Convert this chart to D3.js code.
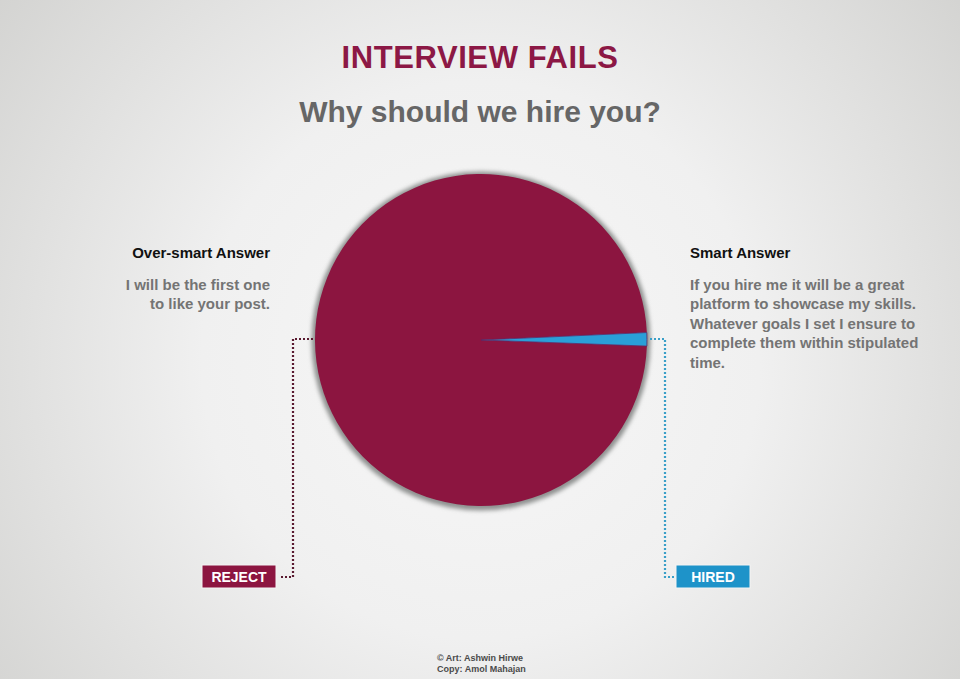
<!DOCTYPE html>
<html>
<head>
<meta charset="utf-8">
<script src="https://cdn.jsdelivr.net/npm/d3@7"></script>
<style>
  html, body { margin: 0; padding: 0; background: #e6e6e6; }
  svg { display: block; }
</style>
</head>
<body>
<svg id="chart" width="960" height="679"></svg>
<script>
// ---- data ----
const categories = ["Over-smart Answer", "Smart Answer"];
const values = [98.7, 1.3];
const outcomes = ["REJECT", "HIRED"];
const titleText = "INTERVIEW FAILS";
const subtitleText = "Why should we hire you?";
const leftBody = ["I will be the first one", "to like your post."];
const rightBody = ["If you hire me it will be a great", "platform to showcase my skills.", "Whatever goals I set I ensure to", "complete them within stipulated", "time."];
const credits = ["\u00A9 Art: Ashwin Hirwe", "Copy: Amol Mahajan"];

// ---- styles ----
const colors = ["#8c1540", "#2a9fd8"];
const boxColors = ["#8c1540", "#1e93c9"];
const dotColors = ["#5a1a30", "#3a9fc8"];
const font = "'Liberation Sans', Arial, sans-serif";

const W = 960, H = 679;
const cx = 481, cy = 340, R = 166;

const svg = d3.select("#chart");
const defs = svg.append("defs");

const bg = defs.append("radialGradient").attr("id", "bg")
  .attr("gradientUnits", "userSpaceOnUse")
  .attr("cx", cx).attr("cy", cy + 20).attr("r", 620);
bg.append("stop").attr("offset", "0%").attr("stop-color", "#f7f7f7");
bg.append("stop").attr("offset", "45%").attr("stop-color", "#f0f0f0");
bg.append("stop").attr("offset", "100%").attr("stop-color", "#d2d2d0");

const blur = defs.append("filter").attr("id", "blur")
  .attr("x", "-20%").attr("y", "-20%").attr("width", "140%").attr("height", "140%");
blur.append("feGaussianBlur").attr("stdDeviation", 2.2);

svg.append("rect").attr("width", W).attr("height", H).attr("fill", "url(#bg)");

// Titles
svg.append("text").attr("x", 480).attr("y", 68)
  .attr("text-anchor", "middle").attr("font-family", font).attr("font-weight", "bold")
  .attr("font-size", 31).attr("letter-spacing", 0.6).attr("fill", "#8c1845").text(titleText);
svg.append("text").attr("x", 480).attr("y", 122)
  .attr("text-anchor", "middle").attr("font-family", font).attr("font-weight", "bold")
  .attr("font-size", 30).attr("fill", "#666666").text(subtitleText);

// Pie
const total = d3.sum(values);
const smartAngle = 2 * Math.PI * values[1] / total;
const start = Math.PI / 2 + smartAngle * 0.45;   // over-smart slice begins just below 3 o'clock
const pie = d3.pie().sort(null).startAngle(start).endAngle(start + 2 * Math.PI);
const arcs = pie(values);
const arc = d3.arc().innerRadius(0).outerRadius(R);

const g = svg.append("g").attr("transform", `translate(${cx},${cy})`);
g.append("circle").attr("r", R + 3.5).attr("cy", 1).attr("fill", "#8f9190").attr("filter", "url(#blur)");
g.selectAll("path.slice").data(arcs).enter().append("path")
  .attr("class", "slice")
  .attr("d", arc)
  .attr("fill", (d, i) => colors[i])
  .attr("stroke", (d, i) => i === 1 ? "#5b2a6a" : "none")
  .attr("stroke-width", 0.8);

// Connectors
const leftX = cx - R - 2, rightX = cx + R + 3;
const boxY = 565, boxH = 23, boxW = 74;
const connectorY = 577;
const leftBoxX = 202, rightBoxX = 676;
const leftVX = 293, rightVX = 665;

const line = d3.line();
svg.append("path")
  .attr("d", line([[leftX, cy - 1], [leftVX, cy - 1], [leftVX, connectorY], [leftBoxX + boxW + 4, connectorY]]))
  .attr("fill", "none").attr("stroke", dotColors[0]).attr("stroke-width", 2.2)
  .attr("stroke-dasharray", "2,2");
svg.append("path")
  .attr("d", line([[rightX, cy - 1], [rightVX, cy - 1], [rightVX, connectorY], [rightBoxX - 1, connectorY]]))
  .attr("fill", "none").attr("stroke", dotColors[1]).attr("stroke-width", 2.2)
  .attr("stroke-dasharray", "2,2");

// Outcome boxes
[[leftBoxX, 0], [rightBoxX, 1]].forEach(([x, i]) => {
  svg.append("rect").attr("x", x).attr("y", boxY).attr("width", boxW).attr("height", boxH)
    .attr("fill", boxColors[i]).attr("stroke", "#f4f4f4").attr("stroke-width", 1);
  svg.append("text").attr("x", x + boxW / 2).attr("y", boxY + 17)
    .attr("text-anchor", "middle").attr("font-family", font).attr("font-weight", "bold")
    .attr("font-size", 14).attr("fill", "#ffffff").text(outcomes[i]);
});

// Side labels
const fs = 15;
svg.append("text").attr("x", 270).attr("y", 258).attr("text-anchor", "end")
  .attr("font-family", font).attr("font-weight", "bold").attr("font-size", fs)
  .attr("fill", "#111111").text(categories[0]);
svg.append("g").selectAll("text").data(leftBody).enter().append("text")
  .attr("x", 270).attr("y", (d, i) => 290 + i * 19.4).attr("text-anchor", "end")
  .attr("font-family", font).attr("font-weight", "bold").attr("font-size", fs)
  .attr("fill", "#747474").text(d => d);

svg.append("text").attr("x", 690).attr("y", 258).attr("text-anchor", "start")
  .attr("font-family", font).attr("font-weight", "bold").attr("font-size", fs)
  .attr("fill", "#111111").text(categories[1]);
svg.append("g").selectAll("text").data(rightBody).enter().append("text")
  .attr("x", 690).attr("y", (d, i) => 290 + i * 19.4).attr("text-anchor", "start")
  .attr("font-family", font).attr("font-weight", "bold").attr("font-size", fs)
  .attr("fill", "#747474").text(d => d);

// Credits
svg.append("g").selectAll("text").data(credits).enter().append("text")
  .attr("x", 437).attr("y", (d, i) => 661 + i * 11).attr("text-anchor", "start")
  .attr("font-family", font).attr("font-weight", "bold").attr("font-size", 9)
  .attr("fill", "#4a4a4a").text(d => d);
</script>
</body>
</html>
